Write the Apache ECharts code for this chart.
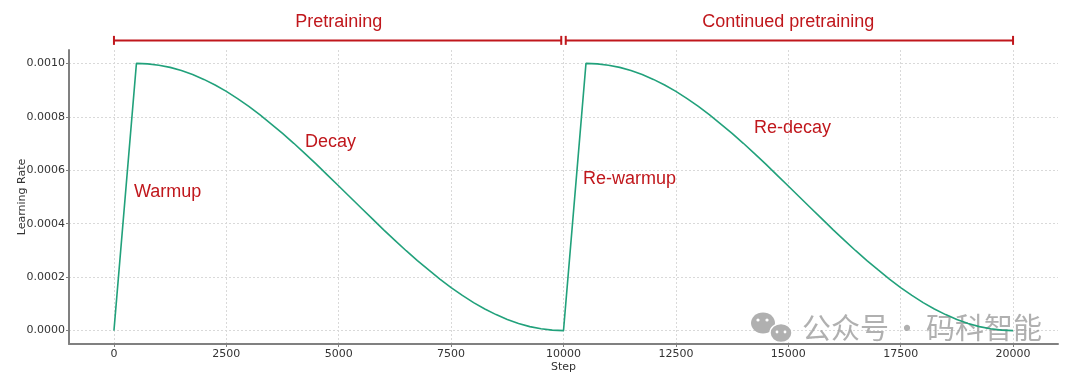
<!DOCTYPE html>
<html>
<head>
<meta charset="utf-8">
<script src="https://cdn.jsdelivr.net/npm/echarts@6/dist/echarts.min.js"></script>
<style>
html,body{margin:0;padding:0;background:#fff;}
#chart{width:1080px;height:374px;}
</style>
</head>
<body>
<div id="chart"></div>
<script>
// ---- data ----
const steps = [0,
  500, 750, 1000, 1250, 1500, 1750, 2000, 2250, 2500, 2750, 3000, 3250, 3500, 3750, 4000, 4250, 4500, 4750, 5000,
  5250, 5500, 5750, 6000, 6250, 6500, 6750, 7000, 7250, 7500, 7750, 8000, 8250, 8500, 8750, 9000, 9250, 9500, 9750, 10000,
  10500, 10750, 11000, 11250, 11500, 11750, 12000, 12250, 12500, 12750, 13000, 13250, 13500, 13750, 14000, 14250, 14500, 14750, 15000,
  15250, 15500, 15750, 16000, 16250, 16500, 16750, 17000, 17250, 17500, 17750, 18000, 18250, 18500, 18750, 19000, 19250, 19500, 19750, 20000];
const learningRate = [0,
  0.001000, 0.000998, 0.000993, 0.000985, 0.000973, 0.000958, 0.000940, 0.000919, 0.000895, 0.000868, 0.000839, 0.000807, 0.000773, 0.000738, 0.000701, 0.000662, 0.000623, 0.000582, 0.000541,
  0.000500, 0.000459, 0.000418, 0.000377, 0.000338, 0.000299, 0.000262, 0.000227, 0.000193, 0.000161, 0.000132, 0.000105, 0.000081, 0.000060, 0.000042, 0.000027, 0.000015, 0.000007, 0.000002, 0.000000,
  0.001000, 0.000998, 0.000993, 0.000985, 0.000973, 0.000958, 0.000940, 0.000919, 0.000895, 0.000868, 0.000839, 0.000807, 0.000773, 0.000738, 0.000701, 0.000662, 0.000623, 0.000582, 0.000541,
  0.000500, 0.000459, 0.000418, 0.000377, 0.000338, 0.000299, 0.000262, 0.000227, 0.000193, 0.000161, 0.000132, 0.000105, 0.000081, 0.000060, 0.000042, 0.000027, 0.000015, 0.000007, 0.000002, 0.000000];
const xTicks = [0, 2500, 5000, 7500, 10000, 12500, 15000, 17500, 20000];
const yTicks = [0, 0.0002, 0.0004, 0.0006, 0.0008, 0.0010];

const phaseLabels = ['Pretraining', 'Continued pretraining'];
const phaseStart = [0, 10050];
const phaseEnd = [9950, 20000];
const phaseMid = [5000, 15000];

const stageLabels = ['Warmup', 'Decay', 'Re-warmup', 'Re-decay'];
const stageX = [445, 4250, 10434, 14238];
const stageY = [0.000519, 0.000705, 0.000567, 0.000757];

const bracketY = 0.001086;
const phaseTextY = 0.001153;

const RED = '#c0171c';
const GREEN = '#21a17b';

const chart = echarts.init(document.getElementById('chart'), null, {renderer: 'canvas'});
const pairs = steps.map((s, i) => [s, learningRate[i]]);

const tickFont = {fontFamily: 'DejaVu Sans', fontSize: 11, color: '#333'};

chart.setOption({
  animation: false,
  backgroundColor: '#ffffff',
  grid: {left: 69, right: 22, top: 50, bottom: 30, containLabel: false, outerBoundsMode: 'none'},
  xAxis: {
    type: 'value', min: -1000, max: 21000,
    name: 'Step', nameLocation: 'middle', nameGap: 18, nameMoveOverlap: false,
    nameTextStyle: tickFont,
    axisLine: {show: true, onZero: false, lineStyle: {color: '#808080', width: 2}},
    axisTick: {show: true, length: 3, lineStyle: {color: '#808080', width: 1}, customValues: xTicks},
    axisLabel: Object.assign({customValues: xTicks, margin: 5, formatter: v => String(v)}, tickFont),
    splitLine: {show: true, lineStyle: {color: '#d9d9d9', type: [2, 2], width: 1}}
  },
  yAxis: {
    type: 'value', min: -0.00005, max: 0.00105,
    name: 'Learning Rate', nameLocation: 'middle', nameGap: 41, nameRotate: 90, nameMoveOverlap: false,
    nameTextStyle: tickFont,
    axisLine: {show: true, onZero: false, lineStyle: {color: '#808080', width: 2}},
    axisTick: {show: true, length: 3, lineStyle: {color: '#808080', width: 1}, customValues: yTicks},
    axisLabel: Object.assign({customValues: yTicks, margin: 4, formatter: v => v.toFixed(4)}, tickFont),
    splitLine: {show: true, lineStyle: {color: '#d9d9d9', type: [2, 2], width: 1}}
  },
  series: [{
    type: 'line', data: pairs, showSymbol: false, symbol: 'none',
    lineStyle: {color: GREEN, width: 1.6}, clip: false
  }]
});

const px = (x, y) => chart.convertToPixel({xAxisIndex: 0, yAxisIndex: 0}, [x, y]);
const graphics = [];
const annFont = '18px "Liberation Sans", Arial, sans-serif';
phaseLabels.forEach((lab, i) => {
  const a = px(phaseStart[i], bracketY);
  const b = px(phaseEnd[i], bracketY);
  const m = px(phaseMid[i], phaseTextY);
  graphics.push({type: 'line', shape: {x1: a[0], y1: a[1], x2: b[0], y2: b[1]}, style: {stroke: RED, lineWidth: 2}});
  graphics.push({type: 'line', shape: {x1: a[0], y1: a[1] - 4.5, x2: a[0], y2: a[1] + 4.5}, style: {stroke: RED, lineWidth: 2}});
  graphics.push({type: 'line', shape: {x1: b[0], y1: b[1] - 4.5, x2: b[0], y2: b[1] + 4.5}, style: {stroke: RED, lineWidth: 2}});
  graphics.push({type: 'text', x: m[0], y: m[1], style: {text: lab, fill: RED, font: annFont, textAlign: 'center', textVerticalAlign: 'middle'}});
});
stageLabels.forEach((lab, i) => {
  const p = px(stageX[i], stageY[i]);
  graphics.push({type: 'text', x: p[0], y: p[1], style: {text: lab, fill: RED, font: annFont, textAlign: 'left', textVerticalAlign: 'middle'}});
});
// watermark
const wmFill = 'rgba(150,150,150,0.75)';
const wmFont = '29px "Noto Sans CJK SC", sans-serif';
graphics.push({type: 'group', z: 100, children: [
  {type: 'ellipse', shape: {cx: 763, cy: 323, rx: 12, ry: 10.5}, style: {fill: '#b0b0b0'}},
  {type: 'circle', shape: {cx: 758, cy: 320, r: 1.6}, style: {fill: '#fff'}},
  {type: 'circle', shape: {cx: 767, cy: 320, r: 1.6}, style: {fill: '#fff'}},
  {type: 'ellipse', shape: {cx: 781, cy: 333, rx: 11, ry: 9.5}, style: {fill: '#b0b0b0', stroke: '#fff', lineWidth: 1.5}},
  {type: 'circle', shape: {cx: 777, cy: 332, r: 1.4}, style: {fill: '#fff'}},
  {type: 'circle', shape: {cx: 785, cy: 332, r: 1.4}, style: {fill: '#fff'}},
  {type: 'text', x: 802, y: 328, style: {text: '公众号', fill: wmFill, font: wmFont, textAlign: 'left', textVerticalAlign: 'middle'}},
  {type: 'text', x: 907, y: 328, style: {text: '·', fill: wmFill, font: wmFont, textAlign: 'center', textVerticalAlign: 'middle'}},
  {type: 'text', x: 926, y: 328, style: {text: '码科智能', fill: wmFill, font: wmFont, textAlign: 'left', textVerticalAlign: 'middle'}}
]});
chart.setOption({graphic: graphics});
</script>
</body>
</html>
